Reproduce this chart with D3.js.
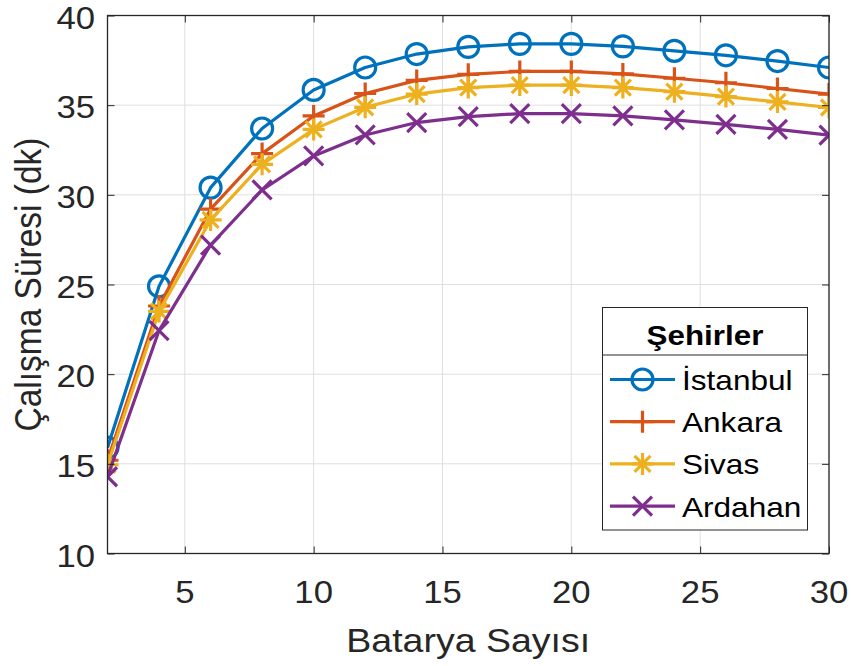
<!DOCTYPE html>
<html>
<head>
<meta charset="utf-8">
<script src="https://cdn.jsdelivr.net/npm/d3@7"></script>
<style>
  html, body { margin: 0; padding: 0; background: #fff; }
  svg { display: block; font-family: "Liberation Sans", Arial, Helvetica, sans-serif; }
</style>
</head>
<body>
<svg id="chart" width="851" height="666"></svg>
<script>
// Battery count on the x axis
const bataryaSayisi = [2, 4, 6, 8, 10, 12, 14, 16, 18, 20, 22, 24, 26, 28, 30];

// Operating time (minutes) per city
const istanbul = [15.9, 24.9, 30.4, 33.7, 35.85, 37.1, 37.85, 38.25, 38.42, 38.42, 38.28, 38.03, 37.78, 37.46, 37.1];
const ankara   = [15.2, 23.8, 29.2, 32.3, 34.4, 35.65, 36.38, 36.72, 36.88, 36.88, 36.74, 36.5, 36.25, 35.93, 35.62];
const sivas    = [14.95, 23.5, 28.6, 31.7, 33.65, 34.88, 35.62, 35.98, 36.12, 36.12, 35.98, 35.75, 35.48, 35.18, 34.87];
const ardahan  = [14.28, 22.43, 27.2, 30.27, 32.17, 33.34, 34.03, 34.36, 34.53, 34.53, 34.4, 34.18, 33.93, 33.65, 33.33];

const seriesNames = ["İstanbul", "Ankara", "Sivas", "Ardahan"];
const seriesColors = ["#0072BD", "#D95319", "#EDB120", "#7E2F8E"];
const seriesMarkers = ["circle", "plus", "asterisk", "cross"];
const seriesValues = [istanbul, ankara, sivas, ardahan];

const xTicks = [5, 10, 15, 20, 25, 30];
const yTicks = [10, 15, 20, 25, 30, 35, 40];

const legendTitle = "Şehirler";
const xLabel = "Batarya Sayısı";
const yLabel = "Çalışma Süresi (dk)";

const svg = d3.select("#chart");
const plot = { left: 107.5, right: 829, top: 15.5, bottom: 553.5 };

const x = d3.scaleLinear().domain([2, 30]).range([plot.left, plot.right]);
const y = d3.scaleLinear().domain([10, 40]).range([plot.bottom, plot.top]);

const axisColor = "#262626";
const tickLen = 7;
const wide = 1.12; // horizontal glyph stretch used for all horizontal text

// Place a horizontal text stretched sideways around its anchor point
function wideText(parent, px, py) {
  return parent.append("g").attr("transform", `translate(${px},${py}) scale(${wide},1)`)
    .append("text").attr("x", 0).attr("y", 0);
}

// Grid lines
const grid = svg.append("g");
grid.selectAll("line.gx").data(xTicks).join("line")
  .attr("x1", d => x(d)).attr("x2", d => x(d))
  .attr("y1", plot.top).attr("y2", plot.bottom)
  .attr("stroke", "#dfdfdf").attr("stroke-width", 1);
grid.selectAll("line.gy").data(yTicks).join("line")
  .attr("x1", plot.left).attr("x2", plot.right)
  .attr("y1", d => y(d)).attr("y2", d => y(d))
  .attr("stroke", "#dfdfdf").attr("stroke-width", 1);

// Clip region for the data
svg.append("defs").append("clipPath").attr("id", "plotClip")
  .append("rect")
  .attr("x", plot.left).attr("y", plot.top)
  .attr("width", plot.right - plot.left).attr("height", plot.bottom - plot.top);

function markerPath(type) {
  const p = d3.path();
  if (type === "plus") {
    const s = 11;
    p.moveTo(-s, 0); p.lineTo(s, 0); p.moveTo(0, -s); p.lineTo(0, s);
  } else if (type === "asterisk") {
    const s = 11, d = 8;
    p.moveTo(-s, 0); p.lineTo(s, 0); p.moveTo(0, -s); p.lineTo(0, s);
    p.moveTo(-d, -d); p.lineTo(d, d); p.moveTo(-d, d); p.lineTo(d, -d);
  } else if (type === "cross") {
    const d = 9.5;
    p.moveTo(-d, -d); p.lineTo(d, d); p.moveTo(-d, d); p.lineTo(d, -d);
  }
  return p.toString();
}

function drawMarker(g, type, color) {
  if (type === "circle") {
    g.append("circle").attr("r", 10.5)
      .attr("fill", "none").attr("stroke", color).attr("stroke-width", 3.2);
  } else {
    g.append("path").attr("d", markerPath(type))
      .attr("fill", "none").attr("stroke", color).attr("stroke-width", 3.2)
      .attr("stroke-linecap", "butt");
  }
}

const dataLayer = svg.append("g").attr("clip-path", "url(#plotClip)");
const line = d3.line().x(d => x(d[0])).y(d => y(d[1]));

seriesValues.forEach((vals, i) => {
  const pts = bataryaSayisi.map((b, j) => [b, vals[j]]);
  dataLayer.append("path").datum(pts)
    .attr("d", line)
    .attr("fill", "none")
    .attr("stroke", seriesColors[i])
    .attr("stroke-width", 3.2)
    .attr("stroke-linejoin", "round");
  pts.forEach(pt => {
    const g = dataLayer.append("g").attr("transform", `translate(${x(pt[0])},${y(pt[1])})`);
    drawMarker(g, seriesMarkers[i], seriesColors[i]);
  });
});

// Axes box with inward ticks (labels drawn separately)
const axes = svg.append("g");
const xAxisB = d3.axisBottom(x).tickValues(xTicks).tickSizeInner(-tickLen).tickSizeOuter(0).tickFormat("");
const xAxisT = d3.axisTop(x).tickValues(xTicks).tickSizeInner(-tickLen).tickSizeOuter(0).tickFormat("");
const yAxisL = d3.axisLeft(y).tickValues(yTicks).tickSizeInner(-tickLen).tickSizeOuter(0).tickFormat("");
const yAxisR = d3.axisRight(y).tickValues(yTicks).tickSizeInner(-tickLen).tickSizeOuter(0).tickFormat("");

function styleAxis(g) {
  g.select(".domain").remove();
  g.selectAll(".tick line").attr("stroke", axisColor).attr("stroke-width", 1);
  g.selectAll(".tick text").remove();
}

axes.append("g").attr("transform", `translate(0,${plot.bottom})`).call(xAxisB).call(styleAxis);
axes.append("g").attr("transform", `translate(0,${plot.top})`).call(xAxisT).call(styleAxis);
axes.append("g").attr("transform", `translate(${plot.left},0)`).call(yAxisL).call(styleAxis);
axes.append("g").attr("transform", `translate(${plot.right},0)`).call(yAxisR).call(styleAxis);

axes.append("rect")
  .attr("x", plot.left).attr("y", plot.top)
  .attr("width", plot.right - plot.left).attr("height", plot.bottom - plot.top)
  .attr("fill", "none").attr("stroke", axisColor).attr("stroke-width", 1.3);

// Tick labels
const tickFont = 31;
xTicks.forEach(t => {
  wideText(svg, x(t), 602.5)
    .attr("text-anchor", "middle").attr("font-size", tickFont).attr("fill", axisColor)
    .text(t);
});
yTicks.forEach(t => {
  wideText(svg, 95, y(t) + 13)
    .attr("text-anchor", "end").attr("font-size", tickFont).attr("fill", axisColor)
    .text(t);
});

// Axis labels
wideText(svg, (plot.left + plot.right) / 2, 651.5)
  .attr("text-anchor", "middle").attr("font-size", 33.5).attr("fill", axisColor)
  .text(xLabel);

svg.append("g")
  .attr("transform", `translate(41,${(plot.top + plot.bottom) / 2}) rotate(-90) scale(1,${wide})`)
  .append("text")
  .attr("text-anchor", "middle").attr("font-size", 33.5).attr("fill", axisColor)
  .text(yLabel);

// Legend
const lg = { left: 602.5, top: 307.5, right: 807.5, bottom: 530, sep: 355 };
const legend = svg.append("g");
legend.append("rect")
  .attr("x", lg.left).attr("y", lg.top)
  .attr("width", lg.right - lg.left).attr("height", lg.bottom - lg.top)
  .attr("fill", "#fff").attr("stroke", axisColor).attr("stroke-width", 1);
legend.append("line")
  .attr("x1", lg.left).attr("x2", lg.right).attr("y1", lg.sep).attr("y2", lg.sep)
  .attr("stroke", axisColor).attr("stroke-width", 1);
wideText(legend, (lg.left + lg.right) / 2, 345)
  .attr("text-anchor", "middle").attr("font-size", 28).attr("font-weight", "bold")
  .attr("fill", "#000").text(legendTitle);

seriesNames.forEach((name, i) => {
  const cy = 379.5 + i * 42.2;
  const row = legend.append("g");
  row.append("line").attr("x1", 610).attr("x2", 675).attr("y1", cy).attr("y2", cy)
    .attr("stroke", seriesColors[i]).attr("stroke-width", 3.2);
  const mg = row.append("g").attr("transform", `translate(642.5,${cy})`);
  drawMarker(mg, seriesMarkers[i], seriesColors[i]);
  wideText(row, 682, cy + 10.5)
    .attr("font-size", 28.2).attr("fill", "#000").text(name);
});
</script>
</body>
</html>
